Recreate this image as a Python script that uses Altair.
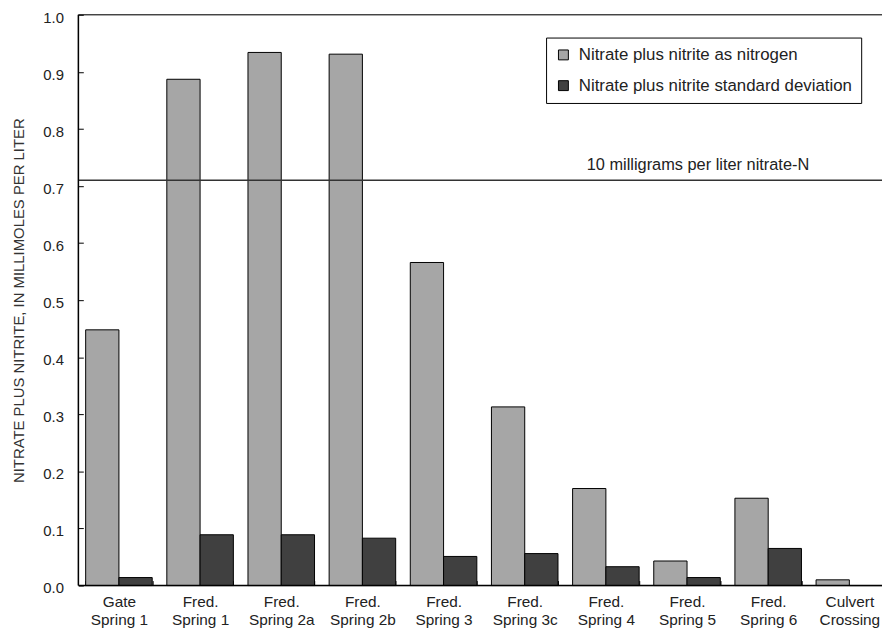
import altair as alt
import pandas as pd

categories = ["Gate\nSpring 1", "Fred.\nSpring 1", "Fred.\nSpring 2a", "Fred.\nSpring 2b",
              "Fred.\nSpring 3", "Fred.\nSpring 3c", "Fred.\nSpring 4", "Fred.\nSpring 5",
              "Fred.\nSpring 6", "Culvert\nCrossing"]
nitrate = [0.448, 0.887, 0.934, 0.931, 0.566, 0.313, 0.170, 0.043, 0.153, 0.010]
std_dev = [0.014, 0.089, 0.089, 0.083, 0.051, 0.056, 0.033, 0.014, 0.065, 0.0]
series = ["Nitrate plus nitrite as nitrogen", "Nitrate plus nitrite standard deviation"]
colors = ["#a6a6a6", "#404040"]
ref_value = [0.71]
ref_label = ["10 milligrams per liter nitrate-N"]
y_ticks = [round(i * 0.1, 1) for i in range(11)]

FONT = "Liberation Sans"

rows = []
for c, v, s in zip(categories, nitrate, std_dev):
    rows.append({"site": c, "series": series[0], "value": v})
    rows.append({"site": c, "series": series[1], "value": s})
df = pd.DataFrame(rows)
ref_df = pd.DataFrame({"y": ref_value, "label": ref_label})

x_scale = alt.Scale(domain=categories, range=[0, 819], paddingInner=0.18, paddingOuter=0.09)
y_scale = alt.Scale(domain=[0, 1], nice=False)

bars = alt.Chart(df).mark_bar(stroke="black", strokeWidth=1).encode(
    x=alt.X("site:N", scale=x_scale, sort=categories,
            axis=alt.Axis(title=None, labelAngle=0, offset=-5, tickSize=5, tickBand="extent",
                          domain=False, grid=False, labelPadding=9, labelFontSize=15.5,
                          labelFont=FONT, labelColor="#222", labelLineHeight=18,
                          tickColor="black", labelExpr="split(datum.label, '\\n')")),
    xOffset=alt.XOffset("series:N", sort=series, scale=alt.Scale(domain=series, paddingInner=0, paddingOuter=0)),
    y=alt.Y("value:Q", scale=y_scale,
            axis=alt.Axis(title="NITRATE PLUS NITRITE, IN MILLIMOLES PER LITER", values=y_ticks,
                          format=".1f", offset=-5, tickSize=5, domain=False, grid=False,
                          labelPadding=15, labelOffset=2.5, labelFontSize=15, labelFont=FONT,
                          labelColor="#222", tickColor="black", titleFont=FONT, titleFontSize=15,
                          titleFontWeight="normal", titleColor="#333", titlePadding=16)),
    color=alt.Color("series:N", sort=series, scale=alt.Scale(domain=series, range=colors),
                    legend=alt.Legend(title=None, orient="none", legendX=472, legendY=23,
                                      strokeColor="black", fillColor="white", padding=9,
                                      symbolType="square", symbolSize=100,
                                      symbolStrokeColor="black", symbolStrokeWidth=1,
                                      labelFont=FONT, labelFontSize=17, labelColor="#222",
                                      labelOffset=7, rowPadding=13, labelLimit=400)),
)

top_rule = alt.Chart(pd.DataFrame({"y": [1.0]})).mark_rule(color="black", strokeWidth=1).encode(
    y=alt.Y("y:Q", scale=y_scale))
bottom_rule = alt.Chart(pd.DataFrame({"y": [0.0]})).mark_rule(color="black", strokeWidth=1.5).encode(
    y=alt.Y("y:Q", scale=y_scale))
left_rule = alt.Chart(pd.DataFrame({"y": [0.0]})).mark_rule(color="black", strokeWidth=1.5).encode(
    x=alt.value(0))
ref_rule = alt.Chart(ref_df).mark_rule(color="#333", strokeWidth=1.5).encode(
    y=alt.Y("y:Q", scale=y_scale))
ref_text = alt.Chart(ref_df).mark_text(align="left", baseline="alphabetic", dy=-10, font=FONT,
                                        fontSize=16.5, color="#222").encode(
    y=alt.Y("y:Q", scale=y_scale), x=alt.value(513), text="label:N")

chart = alt.layer(bars, ref_rule, ref_text, top_rule, bottom_rule, left_rule).properties(
    width=811, height=576,
    autosize=alt.AutoSizeParams(type="none"),
    padding={"left": 71, "top": 4, "right": 0, "bottom": 40},
).configure_view(stroke=None).configure(background="white")

chart.save("out.html", embed_options={"renderer": "svg", "actions": False})
